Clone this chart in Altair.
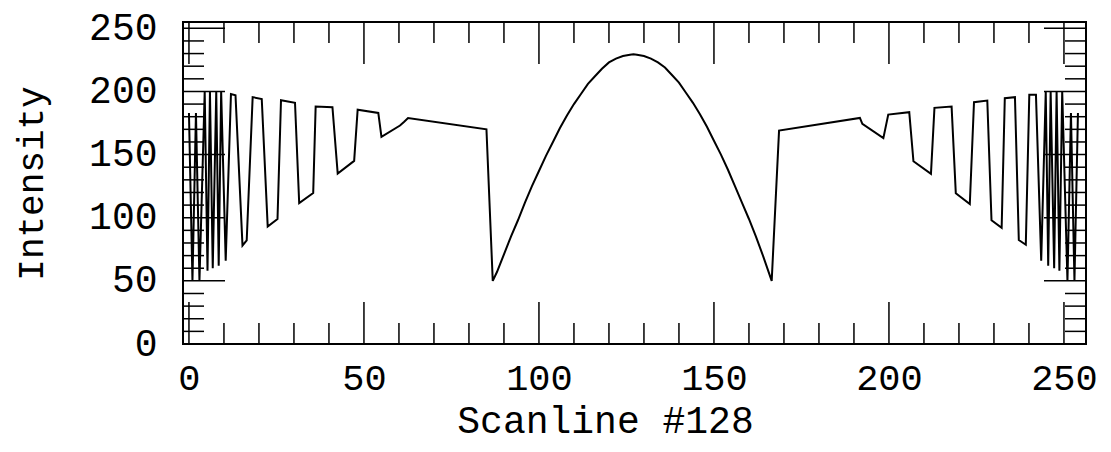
import altair as alt
import pandas as pd

# ---- data ----
scan_x = [0, 1, 2, 3, 4.5, 5.3, 6, 6.8, 7.8, 8.5, 9.2, 10.5, 12, 13.3, 15.3, 16.5,
          18.2, 20.8, 22.5, 25.3, 26.3, 30.3, 31.5, 35.5, 36.2, 41, 42.5, 47.2, 48.2,
          54.1, 55, 60.3, 61.5, 62.6, 85,
          86.8, 88, 90, 92, 94, 96, 98, 100, 102, 104, 106, 108, 110, 112, 114, 116,
          118, 120, 122, 124, 126, 127, 128, 130, 132, 134, 136, 138, 140, 142, 144,
          146, 148, 150, 152, 154, 156, 158, 160, 162, 164, 166.5,
          168.6, 191.7, 192.4, 198.4, 199.8, 205.8, 207, 212, 213, 217.9, 219.1,
          223.1, 224.3, 228.1, 229.3, 232.2, 233.1, 236, 237.1, 239.1, 240.1, 242,
          243.5, 244.8, 245.5, 246.2, 247.2, 247.9, 248.7, 249.5, 251, 252, 253, 254]
intensity = [183, 50, 183, 50, 200, 58, 200, 60, 200, 62, 200, 66, 198, 197, 78, 82,
             195.5, 194, 93, 99, 193, 191, 111.6, 119.6, 188, 187.5, 135, 145, 185.5,
             183, 164, 173, 176, 179, 170,
             50, 57, 71, 85, 98, 112, 125, 137, 149, 160, 171, 181, 190, 198, 206, 212,
             218, 223, 226, 228, 229, 229.4, 229, 228, 226, 223, 219, 213, 207, 199, 191,
             182, 172, 161, 150, 138, 125, 112, 99, 85, 70, 50,
             169, 179, 174.4, 163, 181.7, 183.6, 144.7, 134.7, 187, 188, 119.3,
             110.9, 191.5, 192.8, 98, 92, 194.7, 195.5, 82.3, 78.6, 197.3, 197.3,
             66, 200, 62, 200, 60, 200, 58, 200, 50, 183, 50, 183]

x_major = [0, 50, 100, 150, 200, 250]
x_minor = [10, 20, 30, 40, 60, 70, 80, 90, 110, 120, 130, 140, 160, 170, 180, 190,
           210, 220, 230, 240]
y_major = [0, 50, 100, 150, 200, 250]
y_minor = [10, 20, 30, 40, 60, 70, 80, 90, 110, 120, 130, 140, 160, 170, 180, 190,
           210, 220, 230, 240]

x_title = "Scanline #128"
y_title = "Intensity"

W, H = 903, 322
FONT = "Liberation Mono"

xscale = alt.Scale(domain=[-1.7, 256.3], nice=False, zero=False)
yscale = alt.Scale(domain=[0, 255], nice=False, zero=False)

xaxis = alt.Axis(values=x_major, title=x_title, grid=False, domain=False,
                 ticks=False, tickSize=0, labelFont=FONT, labelFontSize=37,
                 labelColor="black", labelBaseline="alphabetic",
                 labelPadding=45, labelFlush=False, labelOverlap=False,
                 titleFont=FONT, titleFontSize=38, titleFontWeight="normal",
                 titleColor="black", titleX=422, titleY=88,
                 titleBaseline="alphabetic", titleAlign="center")
yaxis = alt.Axis(values=y_major, title=y_title, grid=False, domain=False,
                 ticks=False, tickSize=0, labelFont=FONT, labelFontSize=38,
                 labelColor="black", labelPadding=26, labelFlush=False,
                 labelOverlap=False, titleFont=FONT, titleFontSize=36,
                 titleFontWeight="normal", titleColor="black",
                 titleX=-141, titleY=161, titleAngle=270,
                 titleBaseline="alphabetic", titleAlign="center")

df = pd.DataFrame({"x": scan_x, "y": intensity})

line = alt.Chart(df).mark_line(color="black", strokeWidth=2).encode(
    x=alt.X("x:Q", scale=xscale, axis=xaxis),
    y=alt.Y("y:Q", scale=yscale, axis=yaxis),
)


def xticks(vals, length):
    d = pd.DataFrame({"x": vals})
    xe = alt.X("x:Q", scale=xscale, axis=xaxis)
    bottom = alt.Chart(d).mark_rule(color="black", strokeWidth=1.5).encode(
        x=xe, y=alt.value(H), y2=alt.value(H - length))
    top = alt.Chart(d).mark_rule(color="black", strokeWidth=1.5).encode(
        x=xe, y=alt.value(0), y2=alt.value(length))
    return [bottom, top]


def yticks(vals, length):
    d = pd.DataFrame({"y": vals})
    ye = alt.Y("y:Q", scale=yscale, axis=yaxis)
    left = alt.Chart(d).mark_rule(color="black", strokeWidth=1.5).encode(
        y=ye, x=alt.value(0), x2=alt.value(length))
    right = alt.Chart(d).mark_rule(color="black", strokeWidth=1.5).encode(
        y=ye, x=alt.value(W), x2=alt.value(W - length))
    return [left, right]


layers = [line] + xticks(x_major, 42) + xticks(x_minor, 21) + yticks(y_major, 42) + yticks(y_minor, 21)

chart = alt.layer(*layers).properties(
    width=W, height=H,
    autosize=alt.AutoSizeParams(type="none"),
    padding={"left": 175, "top": 14, "right": 17, "bottom": 100},
    background="white",
).configure_view(stroke="black", strokeWidth=2)

chart.save("out.html", embed_options={"renderer": "svg", "actions": False})
